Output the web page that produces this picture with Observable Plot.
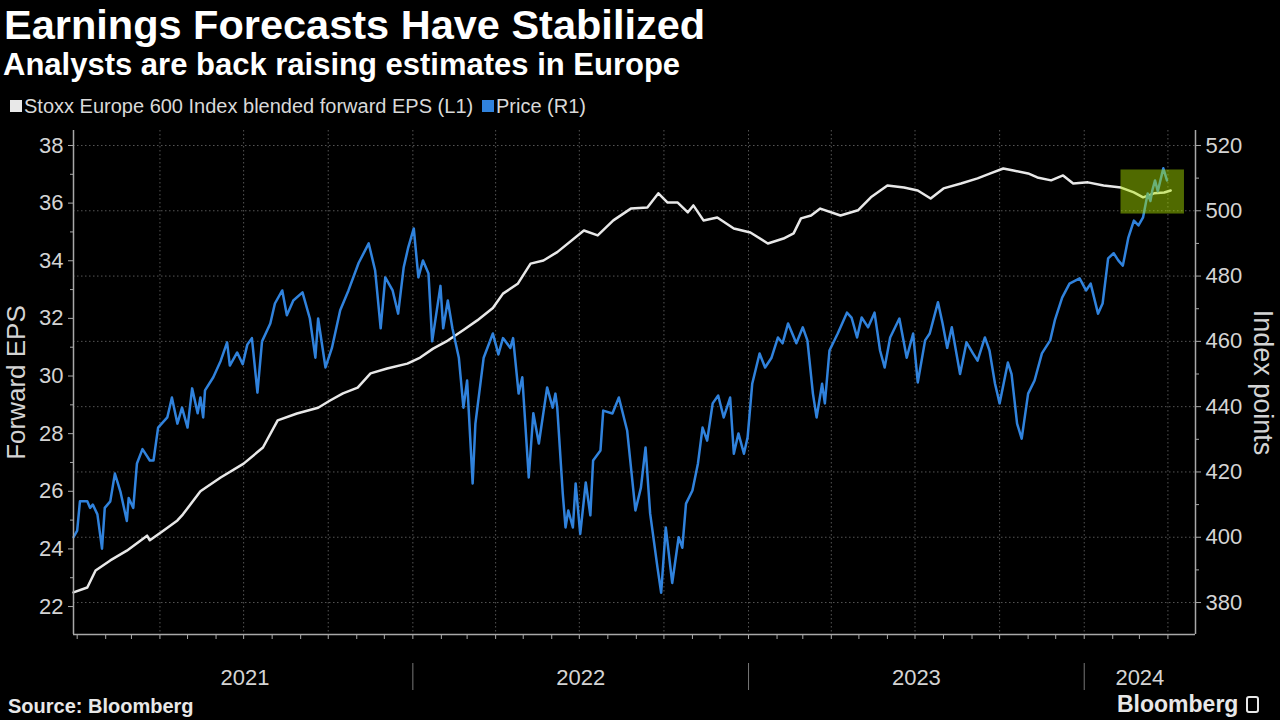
<!DOCTYPE html>
<html><head><meta charset="utf-8">
<script src="https://cdn.jsdelivr.net/npm/d3@7"></script>
<script src="https://cdn.jsdelivr.net/npm/@observablehq/plot@0.6"></script>
<style>
html,body{margin:0;padding:0;background:#000;}
body{width:1280px;height:720px;position:relative;overflow:hidden;font-family:"Liberation Sans",Arial,sans-serif;color:#fff;}
#title{position:absolute;left:4px;top:4px;font-size:41.5px;font-weight:bold;line-height:42px;white-space:nowrap;}
#subtitle{position:absolute;left:3px;top:49px;font-size:31px;font-weight:bold;line-height:31px;white-space:nowrap;}
#legend{position:absolute;left:0;top:96px;font-size:20px;line-height:20px;color:#d9d9d9;white-space:nowrap;height:20px;width:700px;}
.item{position:absolute;top:0;display:flex;align-items:center;}
.sw{display:inline-block;width:12px;height:12px;margin-right:2px;}
#chart{position:absolute;left:0;top:120px;}
#source{position:absolute;left:8px;top:696px;font-size:20px;font-weight:bold;line-height:20px;color:#e8e8e8;}
#brand{position:absolute;left:1117px;top:693px;font-size:23px;font-weight:bold;line-height:23px;color:#e8e8e8;display:flex;align-items:center;}
#brand .ic{display:inline-block;width:13px;height:17px;border:2px solid #e8e8e8;border-radius:3px;margin-left:8px;box-sizing:border-box;}
</style>
</head><body>
<div id="title">Earnings Forecasts Have Stabilized</div>
<div id="subtitle">Analysts are back raising estimates in Europe</div>
<div id="legend"></div>
<div id="chart"></div>
<div id="source">Source: Bloomberg</div>
<div id="brand">Bloomberg<span class="ic"></span></div>
<script>
// ---- Data ----
const seriesNames = ["Stoxx Europe 600 Index blended forward EPS (L1)", "Price (R1)"];
const seriesColors = ["#e8e8e8", "#3082dc"];

const epsDates = ["2020-12-28","2021-01-12","2021-01-21","2021-02-06","2021-02-24","2021-03-18","2021-03-21","2021-04-05","2021-04-20","2021-04-26","2021-05-15","2021-06-06","2021-07-01","2021-07-22","2021-08-07","2021-08-28","2021-09-20","2021-10-03","2021-10-17","2021-11-02","2021-11-16","2021-12-04","2021-12-26","2022-01-09","2022-01-23","2022-02-08","2022-02-25","2022-03-12","2022-03-29","2022-04-09","2022-04-25","2022-05-09","2022-05-23","2022-06-07","2022-07-06","2022-07-21","2022-08-07","2022-08-26","2022-09-13","2022-09-25","2022-10-05","2022-10-16","2022-10-27","2022-11-02","2022-11-13","2022-11-28","2022-12-16","2023-01-03","2023-01-22","2023-02-08","2023-02-19","2023-02-27","2023-03-10","2023-03-20","2023-04-11","2023-04-30","2023-05-14","2023-06-01","2023-06-19","2023-07-04","2023-07-18","2023-08-01","2023-08-20","2023-09-07","2023-09-21","2023-10-05","2023-10-16","2023-11-01","2023-11-11","2023-11-26","2023-12-09","2023-12-20","2024-01-05","2024-01-22","2024-02-10","2024-02-24","2024-03-05","2024-03-17","2024-03-28","2024-04-04"];
const epsValues = [22.49,22.66,23.25,23.6,23.94,24.46,24.3,24.64,24.99,25.2,26.0,26.48,26.96,27.52,28.46,28.7,28.9,29.15,29.4,29.6,30.09,30.26,30.43,30.64,30.95,31.23,31.6,31.93,32.36,32.86,33.2,33.9,34.01,34.3,35.05,34.88,35.4,35.81,35.85,36.34,36.02,36.02,35.68,35.92,35.4,35.5,35.12,34.98,34.6,34.77,34.95,35.47,35.57,35.81,35.57,35.75,36.2,36.61,36.54,36.44,36.16,36.51,36.68,36.86,37.03,37.2,37.13,37.03,36.89,36.79,36.96,36.68,36.72,36.61,36.54,36.37,36.2,36.34,36.37,36.44];

const priceDates = ["2020-12-28","2021-01-01","2021-01-04","2021-01-12","2021-01-15","2021-01-18","2021-01-23","2021-01-28","2021-01-31","2021-02-06","2021-02-11","2021-02-17","2021-02-24","2021-02-26","2021-03-03","2021-03-07","2021-03-13","2021-03-21","2021-03-25","2021-03-30","2021-04-09","2021-04-14","2021-04-20","2021-04-25","2021-05-01","2021-05-06","2021-05-12","2021-05-15","2021-05-18","2021-05-20","2021-05-29","2021-06-06","2021-06-13","2021-06-16","2021-06-24","2021-06-30","2021-07-05","2021-07-10","2021-07-16","2021-07-21","2021-07-30","2021-08-04","2021-08-12","2021-08-17","2021-08-24","2021-09-03","2021-09-11","2021-09-17","2021-09-20","2021-09-28","2021-10-05","2021-10-14","2021-10-23","2021-11-03","2021-11-14","2021-11-21","2021-11-27","2021-12-02","2021-12-10","2021-12-16","2021-12-22","2021-12-27","2022-01-02","2022-01-07","2022-01-12","2022-01-18","2022-01-22","2022-01-31","2022-02-03","2022-02-08","2022-02-13","2022-02-20","2022-02-25","2022-03-01","2022-03-07","2022-03-10","2022-03-19","2022-03-29","2022-04-04","2022-04-09","2022-04-17","2022-04-20","2022-04-26","2022-04-30","2022-05-07","2022-05-12","2022-05-18","2022-05-27","2022-06-02","2022-06-05","2022-06-07","2022-06-13","2022-06-16","2022-06-19","2022-06-24","2022-06-27","2022-07-02","2022-07-08","2022-07-13","2022-07-16","2022-07-24","2022-07-27","2022-08-06","2022-08-13","2022-08-22","2022-08-31","2022-09-06","2022-09-11","2022-09-16","2022-09-24","2022-09-28","2022-10-03","2022-10-10","2022-10-17","2022-10-21","2022-10-25","2022-11-01","2022-11-07","2022-11-12","2022-11-17","2022-11-23","2022-11-29","2022-12-05","2022-12-12","2022-12-16","2022-12-21","2022-12-27","2022-12-31","2023-01-05","2023-01-13","2023-01-19","2023-01-26","2023-02-02","2023-02-07","2023-02-13","2023-02-22","2023-03-01","2023-03-06","2023-03-12","2023-03-16","2023-03-22","2023-03-25","2023-03-30","2023-04-08","2023-04-18","2023-04-23","2023-04-29","2023-05-04","2023-05-11","2023-05-18","2023-05-24","2023-05-29","2023-06-04","2023-06-14","2023-06-22","2023-06-29","2023-07-04","2023-07-12","2023-07-17","2023-07-26","2023-07-31","2023-08-05","2023-08-10","2023-08-19","2023-08-26","2023-09-02","2023-09-07","2023-09-15","2023-09-20","2023-09-26","2023-10-01","2023-10-10","2023-10-14","2023-10-20","2023-10-25","2023-11-01","2023-11-08","2023-11-16","2023-11-25","2023-11-30","2023-12-08","2023-12-16","2023-12-27","2024-01-03","2024-01-08","2024-01-16","2024-01-21","2024-01-27","2024-02-02","2024-02-07","2024-02-12","2024-02-18","2024-02-24","2024-02-29","2024-03-05","2024-03-10","2024-03-13","2024-03-15","2024-03-18","2024-03-21","2024-03-27","2024-03-31"];
const priceValues = [400,402,411,411,409,410,407,396.5,409,411,419.5,414,405,412,409,422.6,427,423.5,423.5,433.6,436.7,442.8,434.8,439.7,433.6,445.6,438,442.8,436.7,445,449,454,459.7,452.6,456.6,453,459,461,444.3,460,465.5,471.6,475.6,468,472.5,475,467,455,467,452,458,469.5,475.6,484,490,481.7,464,479.6,475.6,468.5,482.6,488.8,494.6,479.6,484.8,480.8,460,477,464,472.5,464,455,439.7,448,416.5,434.8,455,462.4,456,461,458,461,444,449,418.3,438,428.7,445.9,439.7,444,439.7,413.4,403,408.2,403,416.5,401,416.8,406.7,423.5,426.6,438.8,437.9,442.8,432.7,408.2,415.2,427.5,407.3,390.7,383,403,386,400,396.8,410.3,414.3,422.6,433.6,429.6,441,443.4,436.7,442.8,425.6,431.8,425.6,430.6,447,456.3,452,455,461.2,459.4,465.5,459.4,464.3,460.3,444,436.7,447,441,457.2,462.4,468.8,467.3,461.2,467.3,464.3,468.8,457.2,452,461.2,467,455,462.4,447.4,460.3,462.4,472,465.5,458,464.3,450,459.7,456.3,454.1,461.2,457.2,447,441,453.5,450,434.8,430.2,444,448,456.3,460.3,466.4,473.4,477.7,479.3,475.6,477.7,468.5,471.6,485.4,487,484.8,483.2,491.8,497,495.5,498,505.3,503,506.2,509.3,506,513,509.3];

const leftTicks = [22,24,26,28,30,32,34,36,38];
const leftMinor = [23,25,27,29,31,33,35,37];
const rightTicks = [380,400,420,440,460,480,500,520];
const rightMinor = [390,410,430,450,470,490,510];
const highlightStart = ["2024-02-10"], highlightEnd = ["2024-04-19"];
const highlightLow = [499], highlightHigh = [512.5];
const xDomain = ["2020-12-28","2024-05-01"];
const yDomain = [21.03, 38.52];

// ---- Right (price) axis mapped onto left (EPS) axis ----
const R0 = 380, R1 = 520, L0 = 22.139, L1 = 38.0;
const toL = p => L0 + (p - R0) * (L1 - L0) / (R1 - R0);
const fromL = v => R0 + (v - L0) * (R1 - R0) / (L1 - L0);

const parse = s => new Date(s + "T00:00:00Z");
const eps = epsDates.map((d, i) => ({date: parse(d), value: epsValues[i]}));
const price = priceDates.map((d, i) => ({date: parse(d), value: priceValues[i]}));
const highlight = highlightStart.map((s, i) => ({start: parse(s), end: parse(highlightEnd[i]), low: highlightLow[i], high: highlightHigh[i]}));
const xStart = parse(xDomain[0]), xEnd = parse(xDomain[1]);

const months = d3.utcMonth.range(xStart, xEnd);
const quarters = d3.utcMonth.every(3).range(parse("2021-04-01"), xEnd);
const yearStarts = d3.utcYear.range(parse("2021-06-01"), xEnd);
const years = d3.utcYear.range(d3.utcYear.floor(xStart), xEnd).filter(y => d3.utcYear.offset(y, 1) > xStart);
const yearLabels = years.map(y => {
  const a = Math.max(+y, +parse("2021-01-01")), b = Math.min(+d3.utcYear.offset(y, 1), +xEnd);
  return {mid: new Date((a + b) / 2), label: String(y.getUTCFullYear())};
}).filter(d => d.label !== "2020");

// ---- Legend ----
const legend = document.getElementById("legend");
const legendX = [10, 482];
seriesNames.forEach((n, i) => {
  const it = document.createElement("div");
  it.className = "item";
  it.style.left = legendX[i] + "px";
  it.innerHTML = `<span class="sw" style="background:${seriesColors[i]}"></span><span>${n}</span>`;
  legend.appendChild(it);
});

const axisColor = "#a8a8a8", textColor = "#d4d4d4", gridColor = "#555";

const chart = Plot.plot({
  width: 1280, height: 575,
  marginLeft: 73, marginRight: 85, marginTop: 10, marginBottom: 61,
  style: {background: "#000", color: textColor, fontFamily: "Liberation Sans, Arial, sans-serif", fontSize: "22px", overflow: "visible"},
  x: {type: "utc", domain: [xStart, xEnd]},
  y: {domain: yDomain},
  marks: [
    Plot.ruleY(rightTicks.map(toL), {stroke: gridColor, strokeDasharray: "1.5 2.5", strokeWidth: 1}),
    Plot.ruleX(quarters, {stroke: gridColor, strokeDasharray: "1.5 2.5", strokeWidth: 1}),
    Plot.line(eps, {x: "date", y: "value", stroke: seriesColors[0], strokeWidth: 2.5, strokeLinejoin: "round"}),
    Plot.line(price, {x: "date", y: d => toL(d.value), stroke: seriesColors[1], strokeWidth: 2.5, strokeLinejoin: "round"}),
    Plot.rect(highlight, {x1: "start", x2: "end", y1: d => toL(d.low), y2: d => toL(d.high), fill: "#aee600", fillOpacity: 0.46}),
    Plot.ruleX([xStart], {stroke: axisColor, strokeWidth: 1.5}),
    Plot.ruleX([xEnd], {stroke: axisColor, strokeWidth: 1.5}),
    Plot.ruleY([yDomain[0]], {stroke: axisColor, strokeWidth: 1.5}),
    Plot.axisY({ticks: leftTicks, anchor: "left", tickSize: 5, tickPadding: 5, fontSize: 22, stroke: axisColor, fill: textColor, label: null}),
    Plot.axisY({ticks: leftMinor, anchor: "left", tickSize: 3, tickFormat: () => "", stroke: axisColor, label: null}),
    Plot.axisY({ticks: rightTicks.map(toL), anchor: "right", tickSize: 5, tickPadding: 5, fontSize: 22, stroke: axisColor, fill: textColor, label: null, tickFormat: d => String(Math.round(fromL(d)))}),
    Plot.axisY({ticks: rightMinor.map(toL), anchor: "right", tickSize: 3, tickFormat: () => "", stroke: axisColor, label: null}),
    Plot.axisX({ticks: months, anchor: "bottom", tickSize: 5, tickFormat: () => "", stroke: axisColor, label: null}),
    Plot.axisX({ticks: yearStarts, anchor: "bottom", tickSize: 27, dy: 29, tickFormat: () => "", stroke: "#777", label: null}),
    Plot.text(yearLabels, {x: "mid", text: "label", frameAnchor: "bottom", dy: 50, fontSize: 22, fill: textColor}),
    Plot.text(["Forward EPS"], {text: d => d, frameAnchor: "left", textAnchor: "middle", dx: -57, rotate: -90, fontSize: 26, fill: textColor}),
    Plot.text(["Index points"], {text: d => d, frameAnchor: "right", textAnchor: "middle", dx: 67, rotate: 90, fontSize: 27, fill: textColor})
  ]
});
document.getElementById("chart").appendChild(chart);
</script>
</body></html>
